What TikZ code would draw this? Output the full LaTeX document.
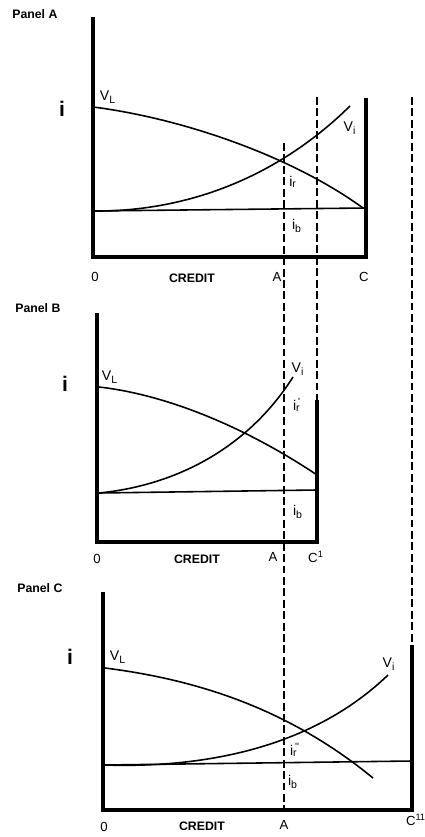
\documentclass[tikz,border=0pt]{standalone}
\usepackage{fontspec}
\setmainfont{Liberation Sans}
\begin{document}
\begin{tikzpicture}[
  x=0.02cm, y=-0.02cm,
  axis/.style={line width=2pt},
  curve/.style={line width=0.9pt},
  guide/.style={line width=0.8pt, dash pattern=on 4.5pt off 2pt},
  panel/.style={font=\bfseries\fontsize{7}{8}\selectfont, anchor=west, inner sep=0pt},
  axlabel/.style={font=\fontsize{7.5}{8}\selectfont, inner sep=0pt},
  credit/.style={font=\bfseries\fontsize{7}{8}\selectfont, inner sep=0pt},
  curvelabel/.style={font=\fontsize{8}{9}\selectfont, inner sep=0pt},
  ilabel/.style={font=\bfseries\fontsize{12}{13}\selectfont, inner sep=0pt}
]

\useasboundingbox (0,0) rectangle (425,837);

\coordinate (dAtop) at (284,143);
\coordinate (dAbot) at (284,810);
\coordinate (dBtop) at (317,97);
\coordinate (dCtop) at (412,97);

\coordinate (topA) at (93,17);
\coordinate (oA) at (93,257);
\coordinate (cA) at (366,257);
\coordinate (wallA) at (366,98);
\coordinate (vlA) at (93,107);
\coordinate (vlAend) at (363,208);
\coordinate (viA) at (93,211);
\coordinate (viAend) at (350,106);
\coordinate (ibAend) at (366,208);

\coordinate (topB) at (97,313);
\coordinate (oB) at (97,542);
\coordinate (cB) at (317,542);
\coordinate (wallB) at (317,400);
\coordinate (vlB) at (99,387);
\coordinate (vlBend) at (317,475);
\coordinate (viB) at (99,493);
\coordinate (viBend) at (293,377);
\coordinate (ibBend) at (317,490);

\coordinate (topC) at (103,592);
\coordinate (oC) at (103,810);
\coordinate (cC) at (412,810);
\coordinate (wallC) at (412,645);
\coordinate (vlC) at (105,668);
\coordinate (vlCend) at (373,778);
\coordinate (viC) at (105,765);
\coordinate (viCend) at (388,675);
\coordinate (ibCend) at (412,761);

\draw[guide] (dAtop) -- (dAbot);
\draw[guide] (dBtop) -- (wallB);
\draw[guide] (dCtop) -- (wallC);

\draw[axis] (topA) -- (oA) -- (cA) -- (wallA);
\draw[curve] (vlA) .. controls (180,118) and (290,155) .. (vlAend);
\draw[curve] (viA) .. controls (190,212) and (280,175) .. (viAend);
\draw[curve] (viA) -- (ibAend);

\draw[axis] (topB) -- (oB) -- (cB) -- (wallB);
\draw[curve] (vlB) .. controls (170,395) and (250,430) .. (vlBend);
\draw[curve] (viB) .. controls (180,485) and (250,445) .. (viBend);
\draw[curve] (viB) -- (ibBend);

\draw[axis] (topC) -- (oC) -- (cC) -- (wallC);
\draw[curve] (vlC) .. controls (200,680) and (290,710) .. (vlCend);
\draw[curve] (viC) .. controls (200,768) and (310,750) .. (viCend);
\draw[curve] (viC) -- (ibCend);

\node[panel] (panA) at (12,14) {Panel A};
\node[ilabel] (iA) at (62,109) {i};
\node[curvelabel] (vlAl) at (108,97) {V\textsubscript{L}};
\node[curvelabel] (viAl) at (350,128) {V\textsubscript{i}};
\node[curvelabel] (irAl) at (293,182) {i\textsubscript{r}};
\node[curvelabel] (ibAl) at (297,226) {i\textsubscript{b}};
\node[axlabel] (oAl) at (95,277) {0};
\node[credit] (crA) at (192,278) {CREDIT};
\node[axlabel] (aAl) at (277,277) {A};
\node[axlabel] (cAl) at (364,277) {C};

\node[panel] (panB) at (15,308) {Panel B};
\node[ilabel] (iB) at (65,384) {i};
\node[curvelabel] (vlBl) at (110,377) {V\textsubscript{L}};
\node[curvelabel] (viBl) at (298,369) {V\textsubscript{i}};
\node[curvelabel] (irBl) at (297,405) {i\textsubscript{r}\kern-0.3em\textsuperscript{\,\textquotesingle}};
\node[curvelabel] (ibBl) at (298,512) {i\textsubscript{b}};
\node[axlabel] (oBl) at (97,559) {0};
\node[credit] (crB) at (197,559) {CREDIT};
\node[axlabel] (aBl) at (273,557) {A};
\node[axlabel] (cBl) at (316,557) {C\textsuperscript{1}};

\node[panel] (panC) at (17,588) {Panel C};
\node[ilabel] (iC) at (70,657) {i};
\node[curvelabel] (vlCl) at (118,657) {V\textsubscript{L}};
\node[curvelabel] (viCl) at (389,664) {V\textsubscript{i}};
\node[curvelabel] (irCl) at (295,750) {i\textsubscript{r}\kern-0.3em\textsuperscript{\,\textquotesingle\textquotesingle}};
\node[curvelabel] (ibCl) at (293,782) {i\textsubscript{b}};
\node[axlabel] (oCl) at (104,827) {0};
\node[credit] (crC) at (202,826) {CREDIT};
\node[axlabel] (aCl) at (284,825) {A};
\node[axlabel] (cCl) at (416,820) {C\textsuperscript{11}};

\end{tikzpicture}
\end{document}
